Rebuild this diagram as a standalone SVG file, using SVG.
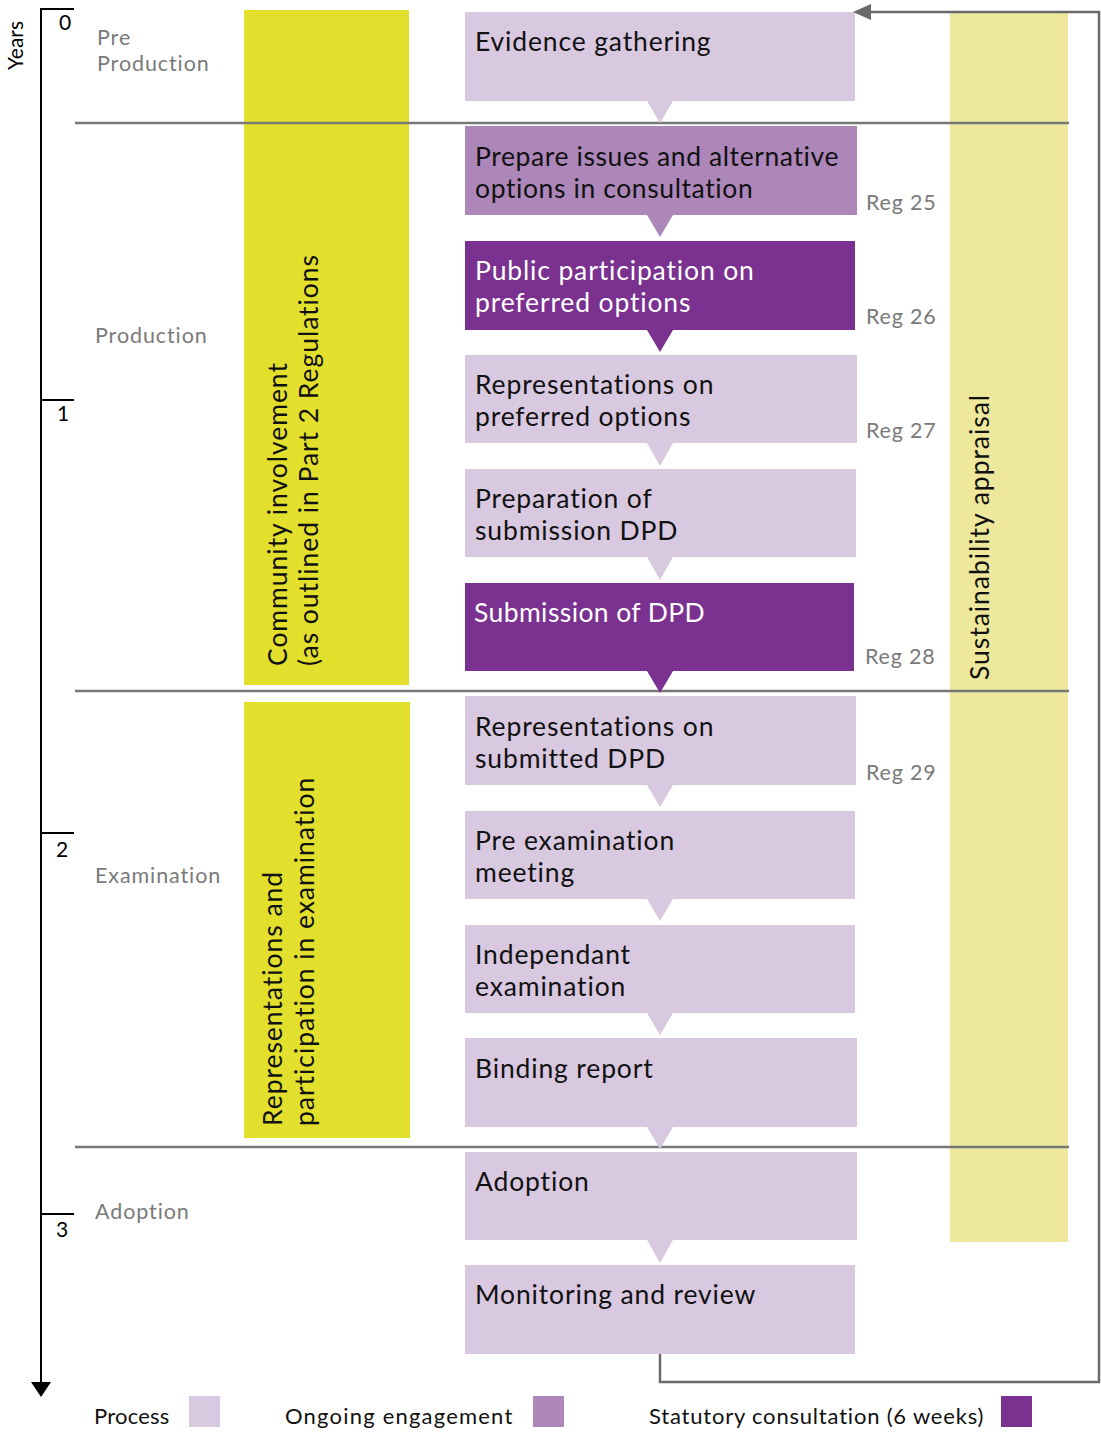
<svg xmlns="http://www.w3.org/2000/svg" width="1101" height="1432" viewBox="0 0 1101 1432">
<style>
text{font-family:Lato,"Open Sans","Liberation Sans",sans-serif}
.box{font-size:26.5px;letter-spacing:0.85px;fill:#111}
.wbox{font-size:26.5px;letter-spacing:0.85px;fill:#fff}
.phase{font-size:21.5px;letter-spacing:0.9px;fill:#7a7a7a}
.reg{font-size:21.5px;letter-spacing:0.8px;fill:#7a7a7a}
.leg{font-size:22px;letter-spacing:0.9px;fill:#111}
.axis{stroke:#000;stroke-width:2;fill:none}
.sep{stroke:#777;stroke-width:2.5}
.light{fill:#d8c8e0}
.med{fill:#ad87ba}
.dark{fill:#7a318f}
.tick{font-size:21px;fill:#000}
.band{font-size:26.5px;letter-spacing:0.95px;fill:#111}
</style>
<g id="bands">
<rect x="244" y="10" width="165" height="675" fill="#e2e02d"/>
<rect x="244" y="702" width="166" height="436" fill="#e2e02d"/>
<rect x="950" y="12" width="118" height="1230" fill="#ede89c"/>
<text class="band" transform="translate(287,666) rotate(-90)"><tspan x="0" y="0">Community involvement</tspan><tspan x="0" dy="31">(as outlined in Part 2 Regulations</tspan></text>
<text class="band" transform="translate(282,1126) rotate(-90)"><tspan x="0" y="0">Representations and</tspan><tspan x="0" dy="32">participation in examination</tspan></text>
<text class="band" transform="translate(989,680) rotate(-90)">Sustainability appraisal</text>
</g>
<g id="axis">
<path class="axis" d="M74,9H41V1384"/>
<path d="M31,1382H51L41,1397z" fill="#000"/>
<path class="axis" d="M41,400H74M41,833H74M41,1214H74"/>
<text class="tick" transform="translate(23,70) rotate(-90)">Years</text>
<text class="tick" x="59" y="30">0</text>
<text class="tick" x="57" y="421">1</text>
<text class="tick" x="56" y="857">2</text>
<text class="tick" x="56" y="1237">3</text>
</g>
<g id="separators">
<path class="sep" d="M75,123H1069M75,691H1069M75,1147H1069"/>
</g>
<g id="phases">
<text class="phase"><tspan x="97" y="45">Pre</tspan><tspan x="97" y="71">Production</tspan></text>
<text class="phase" x="95" y="343">Production</text>
<text class="phase" x="95" y="883">Examination</text>
<text class="phase" x="95" y="1219">Adoption</text>
</g>
<g id="n1"><path class="light" d="M465,12H855V101H673L660,123L647,101H465z"/><text class="box" x="475" y="51">Evidence gathering</text></g>
<g id="n2"><path class="med" d="M465,126H857V215H673L660,237L647,215H465z"/><text class="box" style="letter-spacing:0.6px"><tspan x="475" y="166">Prepare issues and alternative</tspan><tspan x="475" y="198">options in consultation</tspan></text></g>
<g id="n3"><path class="dark" d="M465,241H855V330H673L660,352L647,330H465z"/><text class="wbox"><tspan x="475" y="280">Public participation on</tspan><tspan x="475" y="312">preferred options</tspan></text></g>
<g id="n4"><path class="light" d="M465,355H857V443H673L660,466L647,443H465z"/><text class="box"><tspan x="475" y="394">Representations on</tspan><tspan x="475" y="426">preferred options</tspan></text></g>
<g id="n5"><path class="light" d="M465,469H856V557H673L660,580L647,557H465z"/><text class="box"><tspan x="475" y="508">Preparation of</tspan><tspan x="475" y="540">submission DPD</tspan></text></g>
<g id="n6"><path class="dark" d="M465,583H854V671H673L660,693L647,671H465z"/><text class="wbox" x="474" y="622" style="letter-spacing:0.4px">Submission of DPD</text></g>
<g id="n7"><path class="light" d="M465,696H856V785H673L660,807L647,785H465z"/><text class="box"><tspan x="475" y="736">Representations on</tspan><tspan x="475" y="768">submitted DPD</tspan></text></g>
<g id="n8"><path class="light" d="M465,811H855V899H673L660,921L647,899H465z"/><text class="box"><tspan x="475" y="850">Pre examination</tspan><tspan x="475" y="882">meeting</tspan></text></g>
<g id="n9"><path class="light" d="M465,925H855V1013H673L660,1035L647,1013H465z"/><text class="box"><tspan x="475" y="964">Independant</tspan><tspan x="475" y="996">examination</tspan></text></g>
<g id="n10"><path class="light" d="M465,1038H857V1127H673L660,1149L647,1127H465z"/><text class="box" x="475" y="1078">Binding report</text></g>
<g id="n11"><path class="light" d="M465,1152H857V1240H673L660,1263L647,1240H465z"/><text class="box" x="475" y="1191">Adoption</text></g>
<g id="n12"><rect class="light" x="465" y="1265" width="390" height="89"/><text class="box" x="475" y="1304">Monitoring and review</text></g>
<g id="regs">
<text class="reg" x="866" y="210">Reg 25</text>
<text class="reg" x="866" y="324">Reg 26</text>
<text class="reg" x="866" y="438">Reg 27</text>
<text class="reg" x="865" y="664">Reg 28</text>
<text class="reg" x="866" y="780">Reg 29</text>
</g>
<g id="connectors">
<path d="M660,1354V1382H1099V12H870" fill="none" stroke="#6a6a6a" stroke-width="2.5"/>
<path d="M853,12L871,4V20z" fill="#6a6a6a"/>
</g>
<g id="legend">
<text class="leg" x="94" y="1424" style="letter-spacing:0.2px">Process</text>
<rect class="light" x="189" y="1396" width="31" height="31"/>
<text class="leg" x="285" y="1424" style="letter-spacing:1.2px">Ongoing engagement</text>
<rect class="med" x="533" y="1396" width="31" height="31"/>
<text class="leg" x="649" y="1424" style="letter-spacing:0.8px">Statutory consultation (6 weeks)</text>
<rect class="dark" x="1001" y="1396" width="31" height="31"/>
</g>
</svg>
